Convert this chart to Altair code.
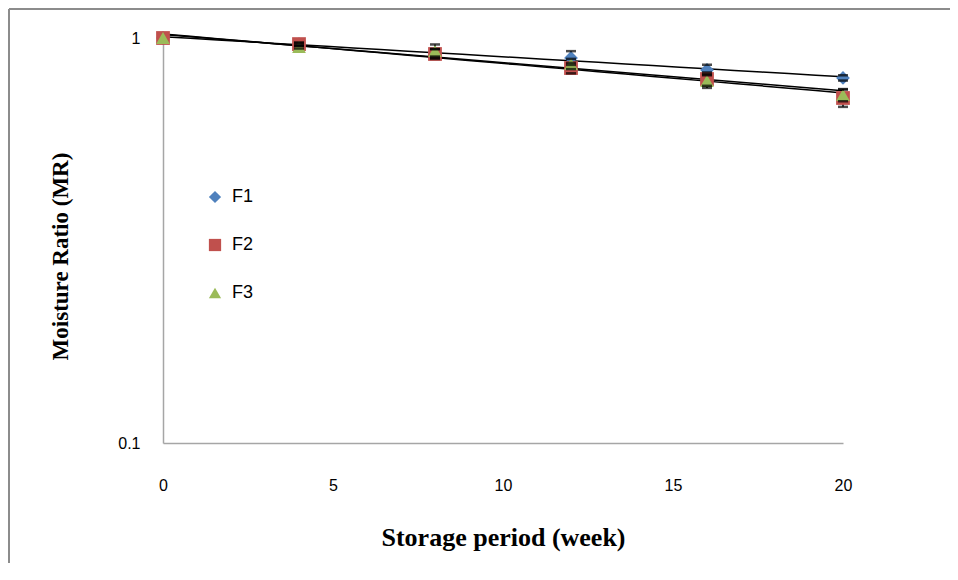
import altair as alt
import pandas as pd

weeks = [0, 4, 8, 12, 16, 20]
series_names = ["F1", "F2", "F3"]
f1 = [1.0, 0.965, 0.92, 0.893, 0.834, 0.797]
f2 = [1.0, 0.966, 0.913, 0.843, 0.792, 0.711]
f3 = [1.0, 0.95, 0.929, 0.863, 0.783, 0.723]
err1 = [0.0, 0.008, 0.02, 0.035, 0.025, 0.012]
err2 = [0.0, 0.008, 0.025, 0.025, 0.03, 0.035]
err3 = [0.0, 0.008, 0.035, 0.025, 0.03, 0.025]
colors = ["#4F81BD", "#C0504D", "#9BBB59"]
shapes = ["diamond", "square", "triangle-up"]
x_ticks = [0, 5, 10, 15, 20]
y_ticks = [0.1, 1]

rows = []
for name, vals, errs in zip(series_names, [f1, f2, f3], [err1, err2, err3]):
    for w, v, e in zip(weeks, vals, errs):
        rows.append({"week": w, "mr": v, "lo": v - e, "hi": v + e, "series": name})
df = pd.DataFrame(rows)

W, H = 680, 405

x_enc = alt.X("week:Q", scale=alt.Scale(domain=[0, 20], nice=False),
              axis=alt.Axis(values=x_ticks, title="Storage period (week)", grid=False,
                            ticks=False, labelPadding=34, labelFontSize=16, labelFlush=False,
                            labelFont="Liberation Sans", labelColor="#000",
                            domainColor="#a6a6a6", domainWidth=1.5,
                            titleFont="Liberation Serif", titleFontSize=26,
                            titleFontWeight="bold", titleX=340, titleY=94,
                            titleBaseline="middle", titleColor="#000"))
y_scale = alt.Scale(type="log", domain=[0.1, 1], nice=False)
y_enc = alt.Y("mr:Q", scale=y_scale,
              axis=alt.Axis(values=y_ticks, labelExpr="datum.value == 1 ? '1' : '0.1'",
                            title="Moisture Ratio (MR)", grid=False, ticks=False,
                            labelPadding=23, labelFontSize=16, labelFont="Liberation Sans",
                            labelFlush=False, labelBaseline="middle",
                            labelColor="#000", domainColor="#a6a6a6", domainWidth=1.5,
                            titleFont="Liberation Serif", titleFontSize=23,
                            titleFontWeight="bold", titleX=-103, titleY=218,
                            titleAngle=-90, titleBaseline="middle", titleColor="#000"))

color_scale = alt.Scale(domain=series_names, range=colors)
shape_scale = alt.Scale(domain=series_names, range=shapes)

base = alt.Chart(df)

points = base.mark_point(filled=True, opacity=1, size=190).encode(
    x=x_enc, y=y_enc,
    color=alt.Color("series:N", scale=color_scale,
                    legend=alt.Legend(title=None, orient="none", legendX=43, legendY=150,
                                      labelFontSize=18, labelFont="Liberation Sans",
                                      labelColor="#000", rowPadding=30, symbolSize=150,
                                      labelOffset=8)),
    shape=alt.Shape("series:N", scale=shape_scale, legend=None),
)

trend = base.transform_regression("week", "mr", method="exp", groupby=["series"],
                                  extent=[0, 20]).mark_line(color="#000", strokeWidth=1.5).encode(
    x=alt.X("week:Q"), y=alt.Y("mr:Q"), detail="series:N")

err_rule = base.transform_filter("datum.hi > datum.lo").mark_rule(color="#000", strokeWidth=1.5).encode(
    x="week:Q", y=alt.Y("lo:Q"), y2="hi:Q")
cap_lo = base.transform_filter("datum.hi > datum.lo").mark_tick(
    color="#000", orient="horizontal", size=10, thickness=2.5).encode(x="week:Q", y=alt.Y("lo:Q"))
cap_hi = base.transform_filter("datum.hi > datum.lo").mark_tick(
    color="#000", orient="horizontal", size=10, thickness=2.5).encode(x="week:Q", y=alt.Y("hi:Q"))

border_top = alt.Chart(pd.DataFrame({"a": [0]})).mark_rule(color="#8c8c8c", strokeWidth=2).encode(
    x=alt.value(-154), x2=alt.value(W + 130), y=alt.value(-29))
border_left = alt.Chart(pd.DataFrame({"a": [0]})).mark_rule(color="#8c8c8c", strokeWidth=2).encode(
    x=alt.value(-154), y=alt.value(-29), y2=alt.value(H + 140))

chart = alt.layer(trend, err_rule, points, cap_lo, cap_hi, border_top, border_left).properties(
    width=W, height=H,
    autosize=alt.AutoSizeParams(type="none"),
    padding={"left": 155, "top": 30, "right": 107, "bottom": 120},
    view=alt.ViewBackground(stroke="transparent", strokeWidth=0),
).configure_view(stroke="transparent", strokeWidth=0).configure(background="white")

chart.save("out.html", embed_options={"renderer": "svg", "actions": False})
